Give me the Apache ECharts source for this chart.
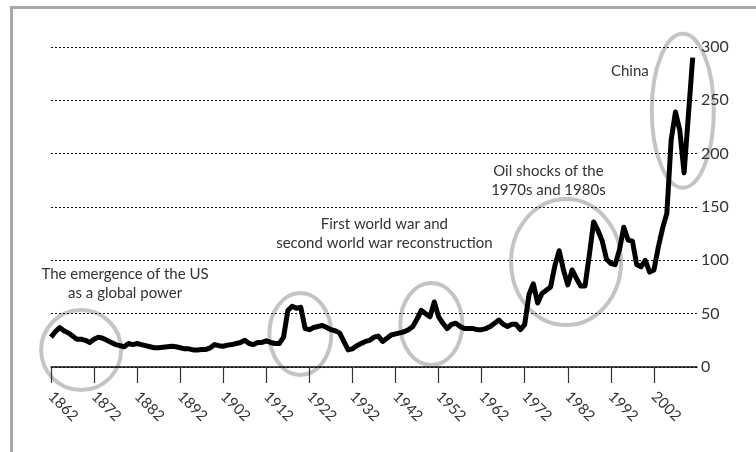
<!DOCTYPE html>
<html><head><meta charset="utf-8">
<script src="https://cdn.jsdelivr.net/npm/echarts@6/dist/echarts.min.js"></script>
<style>html,body{margin:0;padding:0;background:#fff}#c{width:756px;height:452px}</style>
</head><body><div id="c"></div>
<script>
const years = [1862,1863,1864,1865,1866,1867,1868,1869,1870,1871,1872,1873,1874,1875,1876,1877,1878,1879,1880,1881,
1882,1883,1884,1885,1886,1887,1888,1889,1890,1891,1892,1893,1894,1895,1896,1897,1898,1899,1900,1901,
1902,1903,1904,1905,1906,1907,1908,1909,1910,1911,1912,1913,1914,1915,1916,1917,1918,1919,1920,1921,
1922,1923,1924,1925,1926,1927,1928,1929,1930,1931,1932,1933,1934,1935,1936,1937,1938,1939,1940,1941,
1942,1943,1944,1945,1946,1947,1948,1949,1950,1951,1952,1953,1954,1955,1956,1957,1958,1959,1960,1961,
1962,1963,1964,1965,1966,1967,1968,1969,1970,1971,1972,1973,1974,1975,1976,1977,1978,1979,1980,1981,
1982,1983,1984,1985,1986,1987,1988,1989,1990,1991,1992,1993,1994,1995,1996,1997,1998,1999,2000,2001,
2002,2003,2004,2005,2006,2007,2008,2009,2010,2011];
const values = [28,33,37,34,32,29,26,26,25,23,26,28,27,25,23,21,20,19,22,21,
22,21,20,19,18,18,18.5,19,19.5,19,18,17,17,16,16,16.5,16.5,18,21,20,
19.5,20.5,21,22,23,25,22,21,23,23,24.5,23,22,22,28,53,57,55,56,36,
35,37,38,39,37,35,34,32,24,16,17,20,22,24,25,28,29,24,27,30,
31,32,33,35,38,45,53,50,47,61,47,41,36,40,41,38,36,36,36,35,
35,36,38,41,44,40,38,40,40,35,40,68,78,60,69,72,75,95,109,91,
77,91,83,76,76,105,136,128,118,101,97,96,110,131,119,118,96,94,100,89,
91,112,130,144,213,239,222,182,236,290];
const xTickStart = 1862, xTickEnd = 2012, xTickStep = 10;
const yTicks = [0, 50, 100, 150, 200, 250, 300];

// annotations in data coordinates
const noteTexts = ["The emergence of the US\nas a global power", "First world war and\nsecond world war reconstruction", "Oil shocks of the\n1970s and 1980s", "China"];
const noteAnchors = [[1879.2, 78.5], [1939.4, 125.2], [1977.5, 175], [1996.4, 277.8]];
const ringCenters = [[1869.0, 15.9], [1919.9, 30.9], [1950.3, 40.3], [1981.6, 98.4], [2008.7, 240.3]];
const ringRadii = [[40, 40], [31, 41], [31, 41], [55, 63], [31, 77]];

const chart = echarts.init(document.getElementById('c'));
const FONT = 'Lato';
chart.setOption({
  animation: false,
  grid: {left: 51, right: 59, top: 47, bottom: 85},
  xAxis: {
    type: 'value', min: xTickStart, max: xTickEnd, interval: xTickStep, z: 4,
    axisLine: {lineStyle: {color: '#111', width: 1.5}},
    axisTick: {length: 16, lineStyle: {color: '#333', width: 1.2}},
    axisLabel: {rotate: -45, margin: 27, color: '#333', fontSize: 15, fontFamily: FONT,
      showMaxLabel: false, formatter: v => (v === xTickEnd ? '' : String(v))},
    splitLine: {show: false}
  },
  yAxis: {
    type: 'value', position: 'right', min: yTicks[0], max: yTicks[yTicks.length - 1], interval: 50, z: 4,
    axisLine: {show: false}, axisTick: {show: false},
    axisLabel: {margin: 4, color: '#333', fontSize: 16, fontFamily: FONT},
    splitLine: {lineStyle: {color: '#111', type: [2, 2], width: 1}}
  },
  series: [{
    type: 'line', data: years.map((y, i) => [y, values[i]]),
    showSymbol: false, lineStyle: {color: '#000', width: 5, join: 'round'}, z: 5
  }]
});

function px(p) { return chart.convertToPixel({gridIndex: 0}, p); }
const g = [];
g.push({type: 'rect', shape: {x: 10, y: 6, width: 3, height: 446}, style: {fill: '#a8a8a8'}, z: 10});
g.push({type: 'rect', shape: {x: 10, y: 6, width: 746, height: 3}, style: {fill: '#a8a8a8'}, z: 10});
ringCenters.forEach((c, i) => {
  const p = px(c);
  g.push({type: 'ellipse', shape: {cx: p[0], cy: p[1], rx: ringRadii[i][0], ry: ringRadii[i][1]},
    style: {fill: 'none', stroke: '#c4c4c4', lineWidth: 4}, z: 0});
});
noteTexts.forEach((t, i) => {
  const p = px(noteAnchors[i]);
  g.push({type: 'text', x: p[0], y: p[1], style: {text: t, fill: '#333', font: '15px ' + FONT,
    textAlign: 'center', textVerticalAlign: 'middle', lineHeight: 19}, z: 5});
});
chart.setOption({graphic: g});
</script></body></html>
